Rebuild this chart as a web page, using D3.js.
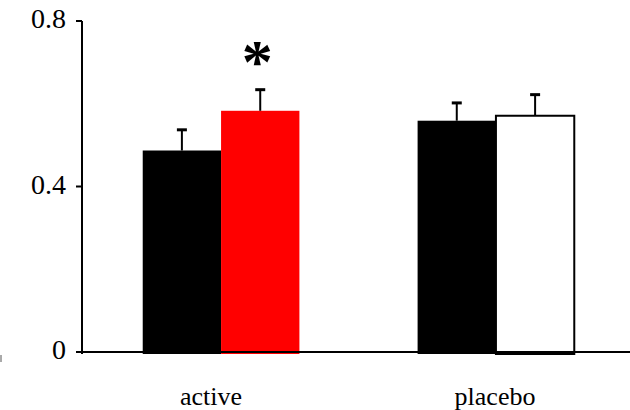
<!DOCTYPE html>
<html>
<head>
<meta charset="utf-8">
<script src="https://cdn.jsdelivr.net/npm/d3@7"></script>
<style>
  body { margin: 0; background: #fff; }
  svg { display: block; }
  text { font-family: "Liberation Serif", "Times New Roman", serif; }
</style>
</head>
<body>
<div class="chart-container"></div>
<script>
const groups = ["active", "placebo"];
const series = ["pre", "post"];
const means = [[0.487, 0.583], [0.559, 0.571]];
const errors = [[0.050, 0.051], [0.043, 0.051]];
const yTicks = [0, 0.4, 0.8];
const fills = [["#000000", "#ff0000"], ["#000000", "#ffffff"]];

const width = 630, height = 410;

const svg = d3.select(".chart-container").append("svg")
    .attr("width", width)
    .attr("height", height);

const axisX = 82;

const y = d3.scaleLinear()
    .domain([0, 0.8])
    .range([352, 21]);

const x0 = d3.scaleBand()
    .domain(groups)
    .range([85, 632])
    .paddingInner(0.43)
    .paddingOuter(0.21);

const x1 = d3.scaleBand()
    .domain(series)
    .range([0, x0.bandwidth()]);

// labels sit a little off the group centres in the original
const xLabel = d3.scalePoint()
    .domain(groups)
    .range([211, 495]);

const data = [];
groups.forEach((g, i) => {
    series.forEach((s, j) => {
        data.push({ group: g, series: s, value: means[i][j], err: errors[i][j], fill: fills[i][j] });
    });
});

// bars
svg.append("g").selectAll("rect")
    .data(data)
    .join("rect")
    .attr("x", d => x0(d.group) + x1(d.series))
    .attr("y", d => y(d.value))
    .attr("width", x1.bandwidth())
    .attr("height", d => y(0) - y(d.value) + 2)
    .attr("fill", d => d.fill)
    .attr("stroke", d => d.fill === "#ffffff" ? "#000" : "none")
    .attr("stroke-width", 2);

// error bars (upper only)
const eb = svg.append("g").attr("stroke", "#000").attr("stroke-width", 2);
data.forEach(d => {
    const cx = x0(d.group) + x1(d.series) + x1.bandwidth() / 2;
    eb.append("line")
        .attr("x1", cx).attr("x2", cx)
        .attr("y1", y(d.value)).attr("y2", y(d.value + d.err));
    eb.append("line")
        .attr("x1", cx - 5).attr("x2", cx + 5)
        .attr("y1", y(d.value + d.err)).attr("y2", y(d.value + d.err))
        .attr("stroke-width", 3);
});

// y axis
svg.append("line")
    .attr("x1", axisX).attr("x2", axisX)
    .attr("y1", y(0.8)).attr("y2", y(0) + 2)
    .attr("stroke", "#000").attr("stroke-width", 2);

svg.append("g").selectAll("line")
    .data(yTicks)
    .join("line")
    .attr("x1", axisX - 6).attr("x2", axisX)
    .attr("y1", d => y(d)).attr("y2", d => y(d))
    .attr("stroke", "#000").attr("stroke-width", 2);

svg.append("g").selectAll("text")
    .data(yTicks)
    .join("text")
    .attr("x", axisX - 16)
    .attr("y", d => y(d) + 7)
    .attr("text-anchor", "end")
    .attr("font-size", 28)
    .attr("fill", "#000")
    .text(d => d === 0 ? "0" : d.toFixed(1));

// x axis
svg.append("line")
    .attr("x1", axisX).attr("x2", width)
    .attr("y1", y(0)).attr("y2", y(0))
    .attr("stroke", "#000").attr("stroke-width", 2);

// category labels
svg.append("g").selectAll("text")
    .data(groups)
    .join("text")
    .attr("x", d => xLabel(d))
    .attr("y", 405)
    .attr("text-anchor", "middle")
    .attr("font-size", 26)
    .attr("fill", "#000")
    .text(d => d);

// significance marker above the red bar
const sig = data[1];
svg.append("text")
    .attr("x", x0(sig.group) + x1(sig.series) + x1.bandwidth() / 2 - 3)
    .attr("y", y(sig.value + sig.err) - 8)
    .attr("text-anchor", "middle")
    .attr("font-family", "Liberation Sans, Arial, sans-serif")
    .attr("font-size", 62)
    .attr("font-weight", "bold")
    .attr("fill", "#000")
    .text("*");

// small stray mark at the left edge
svg.append("line")
    .attr("x1", 1).attr("x2", 1)
    .attr("y1", y(0) + 3).attr("y2", y(0) + 10)
    .attr("stroke", "#555").attr("stroke-width", 1);
</script>
</body>
</html>
